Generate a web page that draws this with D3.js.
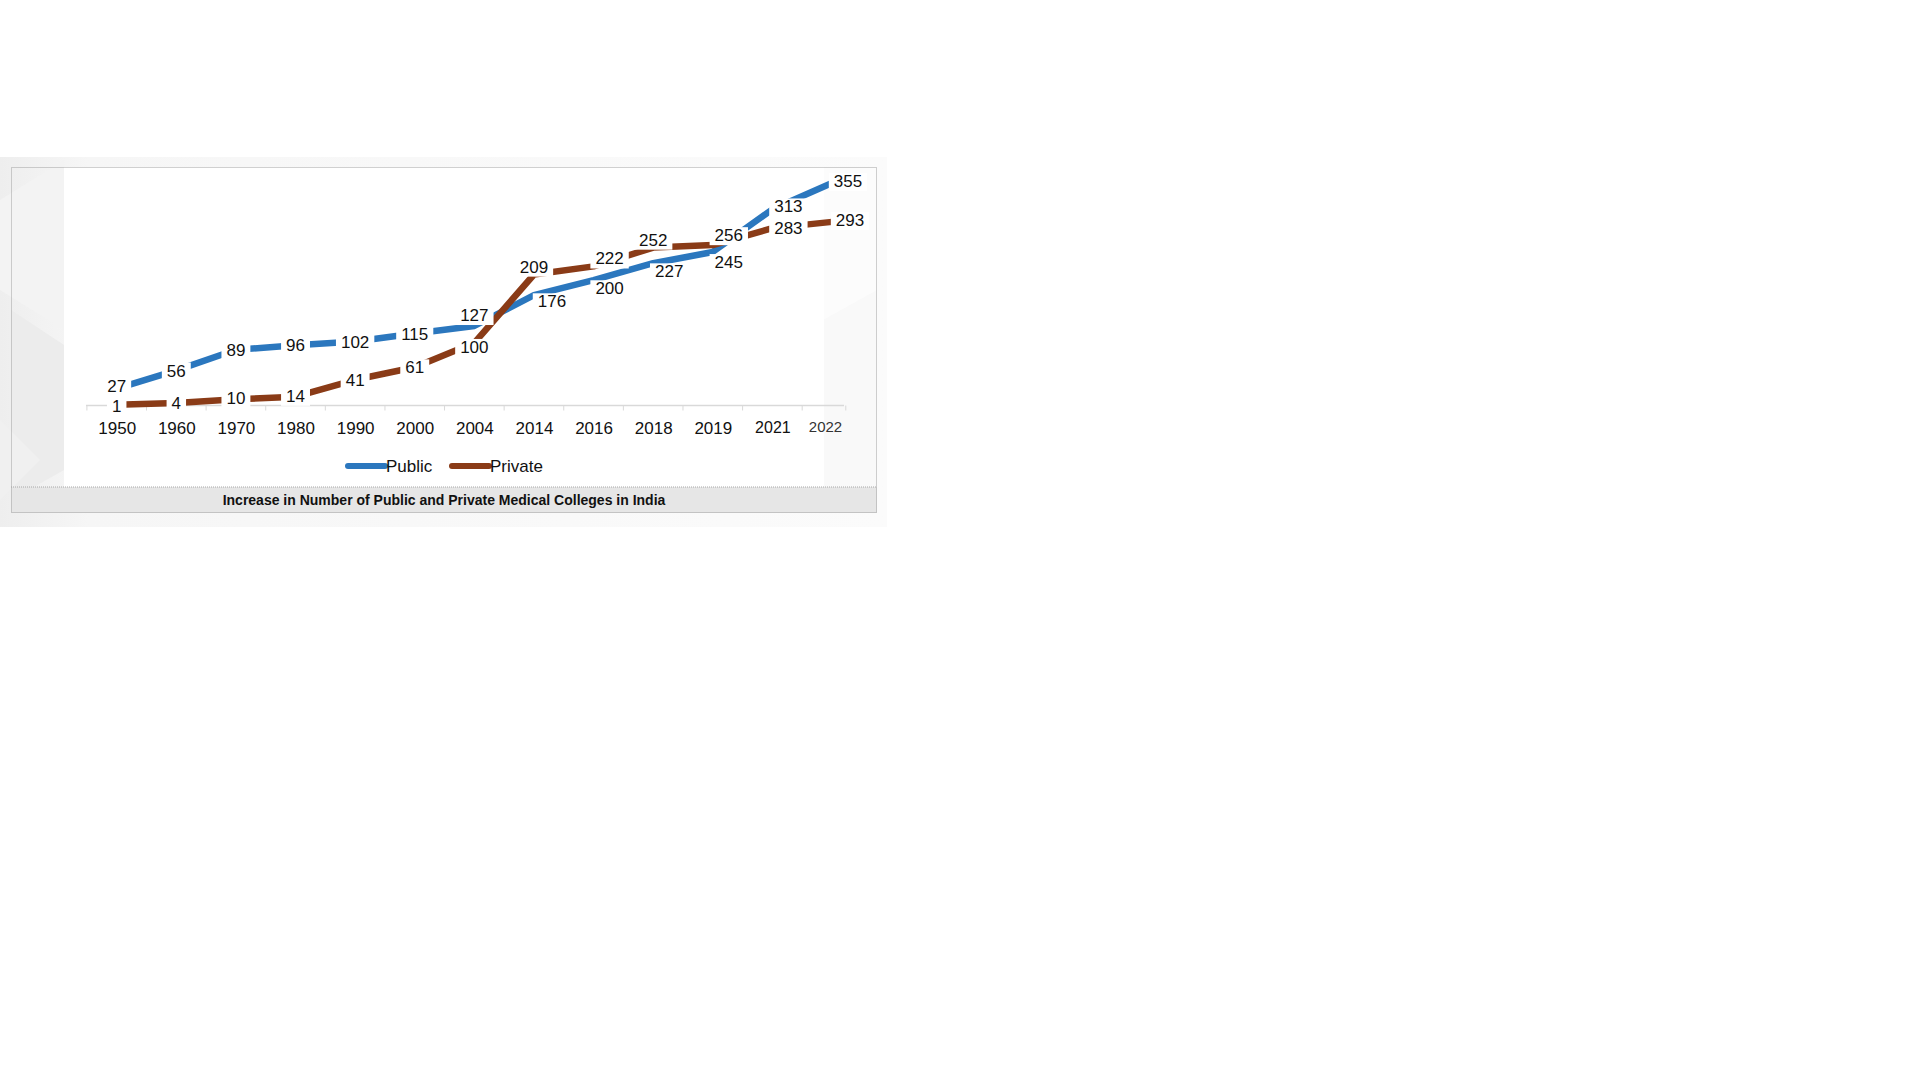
<!DOCTYPE html>
<html>
<head>
<meta charset="utf-8">
<script src="https://cdn.jsdelivr.net/npm/d3@7"></script>
<style>
  html, body { margin: 0; padding: 0; background: #ffffff; }
  svg { display: block; }
  text { font-family: "Liberation Sans", Arial, sans-serif; }
</style>
</head>
<body>
<svg id="chart" width="1920" height="1080"></svg>
<script>
// ---- data ----
const categories = ["1950", "1960", "1970", "1980", "1990", "2000", "2004", "2014", "2016", "2018", "2019", "2021", "2022"];
const publicValues = [27, 56, 89, 96, 102, 115, 127, 176, 200, 227, 245, 313, 355];
const privateValues = [1, 4, 10, 14, 41, 61, 100, 209, 222, 252, 256, 283, 293];
const seriesNames = ["Public", "Private"];
const captionText = "Increase in Number of Public and Private Medical Colleges in India";

// ---- styling / layout (not data) ----
const colors = { Public: "#2b77be", Private: "#8a3b17" };
// label offsets relative to point [dx, dy]
const publicLabelOffsets = [[0,-3],[0,0],[0,0],[0,0],[0,0],[0,0],[0,-11],[18,6],[16,8],[16,8],[16,10],[16,-3],[16,-2]];
const privateLabelOffsets = [[0,1],[0,0],[0,-1],[0,-1],[0,0],[0,0],[0,4],[0,-8],[16,-8],[0,-8],[16,-10],[16,0],[18,-2]];

const svg = d3.select("#chart");

// background decoration
const defs = svg.append("defs");
const bgGrad = defs.append("linearGradient").attr("id", "bgGrad").attr("x1", 0).attr("x2", 1).attr("y1", 0).attr("y2", 0);
bgGrad.append("stop").attr("offset", "0%").attr("stop-color", "#eeeeee");
bgGrad.append("stop").attr("offset", "10%").attr("stop-color", "#f6f6f6");
bgGrad.append("stop").attr("offset", "100%").attr("stop-color", "#fbfbfb");
svg.append("rect").attr("x", 0).attr("y", 157).attr("width", 887).attr("height", 370).attr("fill", "url(#bgGrad)");
// faint geometric shapes on the left strip
svg.append("path").attr("d", "M0,200 L64,160 L64,330 L0,290 Z").attr("fill", "#f3f3f3");
svg.append("path").attr("d", "M11,310 L64,345 L64,470 L11,500 Z").attr("fill", "#ececec");
svg.append("path").attr("d", "M0,420 L40,460 L0,500 Z").attr("fill", "#f0f0f0");
// right strip
svg.append("rect").attr("x", 823).attr("y", 167).attr("width", 54).attr("height", 320).attr("fill", "#fcfcfc");
svg.append("path").attr("d", "M823,320 L877,290 L877,487 L823,487 Z").attr("fill", "#f9f9f9");

// white plot panel
svg.append("rect").attr("x", 64).attr("y", 167).attr("width", 760).attr("height", 320).attr("fill", "#ffffff");

// caption band
svg.append("rect").attr("x", 11).attr("y", 487).attr("width", 866).attr("height", 26).attr("fill", "#e6e6e6");
svg.append("line").attr("x1", 11).attr("x2", 877).attr("y1", 487).attr("y2", 487)
  .attr("stroke", "#a8a8a8").attr("stroke-width", 1).attr("stroke-dasharray", "1,1");
svg.append("text").attr("x", 444).attr("y", 505).attr("text-anchor", "middle")
  .attr("font-size", 14).attr("font-weight", "bold").attr("fill", "#111").text(captionText);

// dotted frame
svg.append("rect").attr("x", 11.5).attr("y", 167.5).attr("width", 865).attr("height", 345)
  .attr("fill", "none").attr("stroke", "#a0a0a0").attr("stroke-width", 1).attr("stroke-dasharray", "1,1");

// ---- scales ----
const x = d3.scalePoint().domain(categories).range([116.7, 832]);
const step = x.step();
const y = d3.scaleLinear().domain([0, 355]).range([405.5, 183]);

// axis
const axisG = svg.append("g").attr("transform", "translate(0,405.5)");
axisG.call(d3.axisBottom(x).tickSize(0).tickPadding(16));
axisG.select(".domain").remove();
const nCat = categories.length;
axisG.selectAll(".tick text")
  .attr("font-family", "Liberation Sans, Arial, sans-serif")
  .attr("font-size", (d, i) => i === nCat - 1 ? 15 : (i === nCat - 2 ? 16 : 17))
  .attr("dx", (d, i) => i === nCat - 1 ? -7 : 0)
  .attr("fill", (d, i) => i === nCat - 1 ? "#333" : "#111");
axisG.insert("line", ":first-child").attr("x1", 86).attr("x2", 844).attr("y1", 0).attr("y2", 0)
  .attr("stroke", "#d9d9d9").attr("stroke-width", 1.5);
const tickXs = categories.map(c => x(c) - step / 2).concat([x(categories[nCat - 1]) + step / 2 - 16]);
axisG.selectAll("line.bt").data(tickXs).enter().append("line").attr("class", "bt")
  .attr("x1", d => d).attr("x2", d => d).attr("y1", 0).attr("y2", 5)
  .attr("stroke", "#d9d9d9").attr("stroke-width", 1);

// ---- lines ----
const series = [
  { name: "Public", values: publicValues, offsets: publicLabelOffsets },
  { name: "Private", values: privateValues, offsets: privateLabelOffsets }
];
const line = d3.line().x((d, i) => x(categories[i])).y(d => y(d));
svg.selectAll("path.series").data(series).enter().append("path").attr("class", "series")
  .attr("d", s => line(s.values))
  .attr("fill", "none")
  .attr("stroke", s => colors[s.name])
  .attr("stroke-width", 6.5)
  .attr("stroke-linejoin", "round");

// ---- data labels with white boxes (occlude the lines like the original) ----
const labelG = svg.append("g");
series.forEach(s => {
  s.values.forEach((v, i) => {
    const cx = x(categories[i]) + s.offsets[i][0];
    const cy = y(v) + s.offsets[i][1];
    const g = labelG.append("g");
    const t = g.append("text").attr("x", cx).attr("y", cy).attr("dy", "0.36em")
      .attr("text-anchor", "middle").attr("font-size", 17).attr("fill", "#111").text(v);
    const bb = t.node().getBBox();
    g.insert("rect", "text").attr("x", bb.x - 5).attr("y", bb.y + 1).attr("width", bb.width + 10).attr("height", bb.height - 1)
      .attr("fill", "#ffffff");
  });
});

// ---- legend ----
const legend = [
  { name: "Public", x1: 348, x2: 385, tx: 386 },
  { name: "Private", x1: 452, x2: 489, tx: 490 }
];
const lg = svg.append("g");
legend.forEach(l => {
  lg.append("line").attr("x1", l.x1).attr("x2", l.x2).attr("y1", 466).attr("y2", 466)
    .attr("stroke", colors[l.name]).attr("stroke-width", 6).attr("stroke-linecap", "round");
  lg.append("text").attr("x", l.tx).attr("y", 466).attr("dy", "0.36em")
    .attr("font-size", 17).attr("fill", "#111").text(l.name);
});
</script>
</body>
</html>
